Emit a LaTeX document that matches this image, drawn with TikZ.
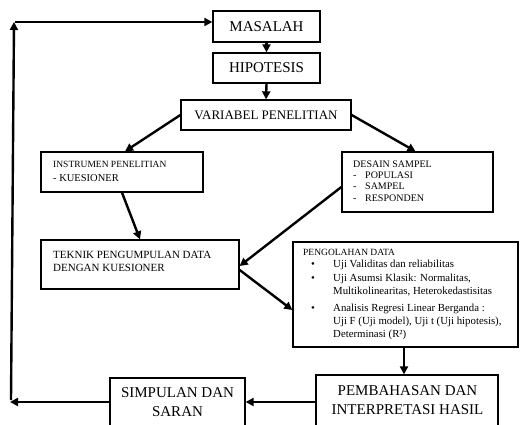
\documentclass[tikz,border=0pt]{standalone}
\usepackage{fontspec}
\setmainfont{Liberation Serif}
\usetikzlibrary{arrows.meta,calc}
\newcommand\fsz[1]{\fontsize{#1}{#1}\selectfont}
\begin{document}
\begin{tikzpicture}[x=1pt,y=-1pt,
  box/.style={draw,line width=1.3pt,inner sep=0pt},
  arr/.style={line width=2.4pt,-{Triangle[length=8pt,width=8pt]}},
  lt/.style={anchor=base west,inner sep=0pt},
  ct/.style={anchor=base,inner sep=0pt}]
\useasboundingbox (0,0) rectangle (524,425);
% boxes
\node[box,minimum width=107pt,minimum height=31pt,font=\fsz{15}] (mas) at (266.5,26.5) {MASALAH};
\node[box,minimum width=107pt,minimum height=30pt,font=\fsz{15}] (hip) at (266.5,68) {HIPOTESIS};
\node[box,minimum width=170pt,minimum height=30pt,font=\fsz{13}] (var) at (266,115) {VARIABEL PENELITIAN};
\node[box,minimum width=162pt,minimum height=40pt] (ins) at (122,172) {};
\node[box,minimum width=198pt,minimum height=49pt] (tek) at (140,264.5) {};
\node[box,minimum width=151pt,minimum height=60pt] (des) at (417.5,182) {};
\node[box,minimum width=225pt,minimum height=105pt] (pen) at (405.5,294.5) {};
\node[box,minimum width=182pt,minimum height=65pt] (pem) at (407,407.5) {};
\node[box,minimum width=135pt,minimum height=62pt] (sim) at (177.5,409) {};
% texts
\node[lt,font=\fsz{9.5}] (insA) at (53,167) {INSTRUMEN PENELITIAN};
\node[lt,font=\fsz{10.5}] (insB) at (53,181) {- KUESIONER};
\node[lt,font=\fsz{11}] (tekA) at (53,258) {TEKNIK PENGUMPULAN DATA};
\node[lt,font=\fsz{11}] (tekB) at (53,271) {DENGAN KUESIONER};
\node[lt,font=\fsz{10}] (desA) at (353,167) {DESAIN SAMPEL};
\node[lt,font=\fsz{10}] (desB1) at (353,178) {-};
\node[lt,font=\fsz{10}] (desB2) at (365,178) {POPULASI};
\node[lt,font=\fsz{10}] (desC1) at (353,189.5) {-};
\node[lt,font=\fsz{10}] (desC2) at (365,189.5) {SAMPEL};
\node[lt,font=\fsz{10}] (desD1) at (353,201) {-};
\node[lt,font=\fsz{10}] (desD2) at (365,201) {RESPONDEN};
\node[lt,font=\fsz{9.5}] (penH) at (303,255) {PENGOLAHAN DATA};
\node[lt,font=\fsz{10.8}] (penB1) at (311,267) {\textbullet};
\node[lt,font=\fsz{10.8}] (penT1) at (333,267) {Uji Validitas dan reliabilitas};
\node[lt,font=\fsz{10.8}] (penB2) at (311,281.5) {\textbullet};
\node[lt,font=\fsz{10.8}] (penT2) at (333,281.5) {Uji Asumsi Klasik: Normalitas,};
\node[lt,font=\fsz{10.8}] (penT3) at (333,294) {Multikolinearitas, Heterokedastisitas};
\node[lt,font=\fsz{10.8}] (penB4) at (311,311) {\textbullet};
\node[lt,font=\fsz{10.8}] (penT4) at (333,311) {Analisis Regresi Linear Berganda :};
\node[lt,font=\fsz{10.8}] (penT5) at (333,324) {Uji F (Uji model), Uji t (Uji hipotesis),};
\node[lt,font=\fsz{10.8}] (penT6) at (333,337) {Determinasi (R²)};
\node[ct,font=\fsz{15}] (simA) at (177.5,397) {SIMPULAN DAN};
\node[ct,font=\fsz{15}] (simB) at (177.5,416) {SARAN};
\node[ct,font=\fsz{15}] (pemA) at (407.5,395) {PEMBAHASAN DAN};
\node[ct,font=\fsz{15}] (pemB) at (407.5,414) {INTERPRETASI HASIL};
% connectors
\draw[arr] (mas.south) -- (hip.north);
\draw[arr] (hip.south) -- (var.north);
\draw[arr] (var.west) -- ([xshift=3pt]ins.north);
\draw[arr] (var.east) -- ([xshift=-2pt]des.north);
\draw[arr] (ins.south) -- (tek.north);
\draw[arr] ([yshift=-5pt]des.west) -- ([yshift=-1.5pt]tek.east);
\draw[arr] ([yshift=-5.5pt]tek.east) -- ([yshift=-15.5pt]pen.west);
\draw[arr] ([xshift=-1.5pt]pen.south) -- ([xshift=-3pt]pem.north);
\draw[arr] ([yshift=5.5pt]pem.west) -- ([yshift=7pt]sim.east);
\coordinate (c1) at (10,402);
\coordinate (c2) at (11,400);
\coordinate (c3) at (14,22);
\draw[arr] ([yshift=7pt]sim.west) -- (c1);
\draw[arr] (c2) -- (c3);
\draw[arr] ([xshift=1.2pt]c3) -- ([yshift=4.5pt]mas.west);
\end{tikzpicture}
\end{document}
